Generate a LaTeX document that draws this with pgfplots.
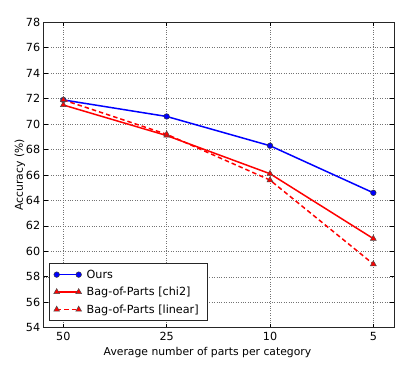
\documentclass[border=0pt]{standalone}
\usepackage{pgfplots}
\pgfplotsset{compat=1.18}
\usepackage{fontspec}
\setmainfont{DejaVu Sans}
\begin{document}
\begin{tikzpicture}
\begin{axis}[
  scale only axis,
  width=350.3pt, height=305.4pt,
  xmin=-0.19, xmax=3.2,
  ymin=54, ymax=78,
  xtick={0,1,2,3},
  xticklabels={50,25,10,5},
  ytick={54,56,...,78},
  tick align=inside,
  major tick length=4pt,
  xtick pos=both, ytick pos=both,
  /pgf/number format/assume math mode=true,
  tick label style={font=\fontsize{11.2}{13}\selectfont},
  xticklabel style={yshift=-1pt},
  grid=major,
  grid style={dotted, black!55, line width=0.5pt},
  axis line style={black!85, line width=0.9pt},
  every tick/.style={black, line width=0.6pt},
  label style={font=\fontsize{10.8}{13}\selectfont},
  xlabel={Average number of parts per category},
  ylabel={Accuracy (\%)},
  xlabel style={at={([yshift=-28.3pt]axis description cs:0.4676,0)}, anchor=base},
  ylabel style={at={([xshift=-23.7pt]axis description cs:0,0.5)}, anchor=center, rotate=0},
  legend cell align=left,
  legend image code/.code={\draw[#1] plot coordinates {(0pt,0pt) (22pt,0pt)};},
  legend style={at={(axis description cs:0,0)}, anchor=south west, xshift=5.6pt, yshift=6.7pt,
    font=\fontsize{11.2}{13}\selectfont, draw=black!85, line width=0.9pt,
    inner xsep=4pt, inner ysep=4pt, row sep=3.5pt,
    nodes={inner xsep=5pt}},
]
\addplot[blue, line width=1.5pt, mark=*, mark size=2.8pt, mark options={fill=blue, draw=black!80, line width=0.5pt, solid}]
  coordinates {(0,71.9) (1,70.6) (2,68.3) (3,64.6)};
\addlegendentry{Ours}
\addplot[red, line width=1.5pt, mark=triangle*, mark size=3.4pt, mark options={fill=red, draw=black!70, line width=0.5pt, solid}]
  coordinates {(0,71.5) (1,69.1) (2,66.1) (3,61.0)};
\addlegendentry{Bag-of-Parts [chi2]}
\addplot[red, line width=1.5pt, dash pattern=on 4.5pt off 3pt, mark=triangle*, mark size=3.4pt, mark options={fill=red, draw=black!70, line width=0.5pt, solid}]
  coordinates {(0,71.9) (1,69.2) (2,65.6) (3,59.0)};
\addlegendentry{Bag-of-Parts [linear]}
\end{axis}
\pgfresetboundingbox
\path[use as bounding box] (-43.7pt,-38.3pt) rectangle (363.3pt,327.7pt);
\end{tikzpicture}
\end{document}
